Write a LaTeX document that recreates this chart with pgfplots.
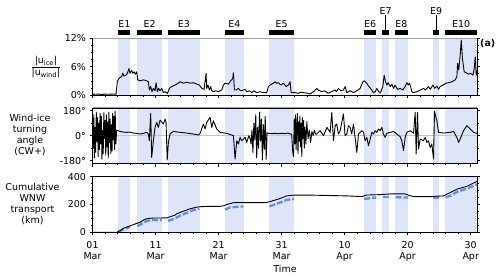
\documentclass[border=0pt]{standalone}
\usepackage{fontspec}
\setmainfont{DejaVu Sans}
\usepackage{pgfplots}
\pgfplotsset{compat=1.18}
\definecolor{shadecol}{RGB}{222,229,248}
\definecolor{bluecol}{RGB}{100,140,235}

\newcommand{\evrect}[5]{\addplot[#5, forget plot] coordinates {(#1,#3) (#2,#3) (#2,#4) (#1,#4)};}
\newcommand{\allevents}[3]{%
\evrect{4.1}{6}{#1}{#2}{#3}%
\evrect{7.1}{11}{#1}{#2}{#3}%
\evrect{12}{17}{#1}{#2}{#3}%
\evrect{21}{24}{#1}{#2}{#3}%
\evrect{28}{32}{#1}{#2}{#3}%
\evrect{43.1}{45}{#1}{#2}{#3}%
\evrect{46}{47}{#1}{#2}{#3}%
\evrect{48}{50}{#1}{#2}{#3}%
\evrect{54}{55}{#1}{#2}{#3}%
\evrect{56}{61}{#1}{#2}{#3}%
}

\pgfplotsset{
  every axis/.append style={
    scale only axis, width=384.5bp,
    xmin=0, xmax=61,
    xtick={0,10,20,30,40,50,60}, minor x tick num=4,
    xtick pos=bottom,
    tick align=outside,
    major tick length=3bp, minor tick length=1.8bp,
    every tick/.style={black, line width=0.6bp},
    axis line style={line width=0.7bp},
    axis on top=true,
    tick label style={font=\fontsize{9.5}{11.6}\selectfont},
  },
  dataline/.style={black, line width=0.9bp, line join=round},
  blueline/.style={bluecol, line width=2.3bp, dash pattern=on 6bp off 2bp},
}

\begin{document}
\begin{tikzpicture}[x=1bp,y=1bp,font=\fontsize{9.5}{11.1}\selectfont]
\useasboundingbox (0,0) rectangle (500,278);

% ---------------- panel a ----------------
\begin{axis}[name=pa, at={(92.5bp,183bp)}, anchor=south west, height=56.7bp,
  ymin=0, ymax=12, ytick={0,6,12}, yticklabels={0\%,6\%,12\%}, minor y tick num=3,
  xticklabels={}, clip=false]
\allevents{0}{12}{fill=shadecol,draw=none}
\allevents{12.68}{13.85}{fill=black,draw=none}
\addplot[dataline] coordinates {
(0,0.2)(0.5,0.15)(1,0.2)(1.5,0.1)(2,0.2)(2.5,0.15)(3,0.2)(3.5,0.15)(3.73,0.2)(3.94,2.8)(4.10,3.3)(4.36,3.7)(4.63,3.9)(4.79,4.6)(5.0,4.0)(5.32,4.2)(5.53,4.6)(5.79,5.6)(5.95,4.6)(6.22,5.2)(6.38,4.6)(6.59,4.9)(6.8,4.4)(7.01,4.9)(7.17,3.2)(7.54,3.0)(8.07,3.2)(8.6,3.0)(8.86,2.8)(9.02,1.06)(9.23,1.8)(9.44,0.7)(9.66,1.4)(9.92,0.9)(10.08,2.6)(10.29,0.7)(10.5,1.4)(10.71,0.9)(10.98,1.4)(11.24,0.5)(11.51,0.7)(11.88,0.35)(12.2,1.4)(12.57,1.8)(13.1,2.1)(13.62,2.5)(13.89,2.8)(14.42,2.5)(14.95,2.7)(15.48,2.5)(16.0,2.6)(16.53,2.3)(16.96,2.1)(17.33,1.4)(17.7,1.2)(18.02,4.6)(18.12,1.4)(18.33,2.1)(18.54,1.06)(18.76,1.8)(18.91,0.9)(19.18,0.7)
(19.5,0.9)(19.97,0.7)(20.5,1.06)(20.77,2.1)(21.03,2.5)(21.56,2.3)(21.93,3.0)(22.25,3.5)(22.35,4.7)(22.51,1.06)(22.78,1.06)(23.15,1.4)(23.4,1.0)(23.68,0.9)(23.94,1.06)(24.2,1.2)(24.47,0.7)(24.9,0.9)(25.26,0.5)(25.6,0.9)(26.06,0.5)(26.59,0.7)(27.1,0.5)(27.65,0.5)(27.91,1.8)(28.17,2.1)(28.70,2.5)(28.97,2.8)(29.2,2.5)(29.5,2.6)(29.9,2.1)(30.29,2.5)(30.71,1.8)(31.08,2.1)(31.35,2.8)(31.51,0.5)(32.14,0.5)(32.67,0.35)(33.0,0.6)(33.46,0.5)(34.0,0.4)(34.52,0.2)(35.05,0.7)(35.58,1.4)(35.8,1.06)(36.38,0.7)(36.8,0.9)(37.43,0.35)(37.9,0.7)(38.49,1.06)(38.7,0.7)(39.02,1.4)(39.4,0.9)(39.81,1.06)(40.08,1.8)(40.34,0.5)
(40.88,0.9)(41.4,0.5)(41.93,0.9)(42.46,1.4)(42.89,2.8)(43.10,3.0)(43.5,2.5)(43.79,1.9)(44.1,1.4)(44.3,1.06)(44.58,0.5)(44.85,0.7)(45.11,1.4)(45.4,0.7)(45.7,0.5)(46.06,1.8)(46.27,4.2)(46.49,2.8)(46.7,2.1)(46.9,2.6)(47.23,1.8)(47.5,2.3)(47.75,1.4)(48.0,2.1)(48.39,1.2)(48.8,1.4)(49.24,1.06)(49.6,1.8)(49.87,2.6)(50.1,2.1)(50.3,2.5)(50.67,0.7)(50.9,0.5)(51.46,0.7)(52.0,1.06)(52.52,1.4)(52.8,1.06)(53.31,1.8)(53.6,1.2)(54.0,2.1)(54.3,1.4)(54.63,1.9)(54.9,1.2)(55.16,1.8)(55.6,2.1)(56.11,2.5)(56.5,2.6)(57.01,2.8)(57.3,3.0)(57.54,3.2)(57.81,3.9)(57.92,6.7)(58.1,5.3)(58.34,8.5)(58.5,11.6)(58.71,7.4)(58.97,4.9)(59.3,4.7)(59.66,4.4)(60.0,4.6)(60.35,4.2)(60.56,5.6)(60.72,8.1)(60.88,4.2)(61.0,5.2)
};
\addplot[black, line width=0.8bp] coordinates {(46.5,13.85) (46.5,16.9)};
\addplot[black, line width=0.8bp] coordinates {(54.5,13.85) (54.5,16.9)};
\node[anchor=base] at (axis cs:5.05,14.35) {E1};
\node[anchor=base] at (axis cs:9.05,14.35) {E2};
\node[anchor=base] at (axis cs:14.5,14.35) {E3};
\node[anchor=base] at (axis cs:22.5,14.35) {E4};
\node[anchor=base] at (axis cs:30,14.35) {E5};
\node[anchor=base] at (axis cs:44.05,14.35) {E6};
\node[anchor=base] at (axis cs:46.5,17.14) {E7};
\node[anchor=base] at (axis cs:49,14.35) {E8};
\node[anchor=base] at (axis cs:54.5,17.14) {E9};
\node[anchor=base] at (axis cs:58.5,14.35) {E10};
\node[anchor=north west, inner sep=0pt, font=\fontsize{9.5}{11}\selectfont\bfseries] at (rel axis cs:1,1) [xshift=3bp, yshift=-1bp] {(a)};
\end{axis}

% ---------------- panel b ----------------
\begin{axis}[name=pb, at={(92.5bp,114.5bp)}, anchor=south west, height=55.6bp,
  ymin=-200, ymax=200, ytick={-180,0,180}, yticklabels={-180°,0°,180°}, minor y tick num=1,
  xticklabels={}]
\allevents{-200}{200}{fill=shadecol,draw=none}
\addplot[gray!45, line width=0.6bp, forget plot] coordinates {(0,0) (61,0)};
\addplot[dataline] coordinates {
(0,120)(0.1,-90)(0.2,150)(0.3,-160)(0.4,60)(0.5,-120)(0.6,170)(0.7,-40)(0.8,130)(0.9,-150)(1.0,90)(1.1,-100)(1.2,160)(1.3,-60)(1.4,140)(1.5,-170)(1.6,40)(1.7,-130)(1.8,165)(1.9,-20)(2.0,110)(2.1,-140)(2.2,150)(2.3,-80)(2.4,100)(2.5,-160)(2.6,170)(2.7,-50)(2.8,120)(2.9,-130)(3.0,80)(3.1,-110)(3.2,160)(3.3,-30)(3.4,140)(3.5,-100)(3.6,175)(3.7,-60)(3.84,40)
(4.37,31)(4.9,26)(5.43,24)(5.95,26)(6.48,19)(7.01,17)(7.54,12)(8.07,17)(8.6,24)(8.86,12)(9.02,-36)(9.23,161)(9.39,-156)(9.66,-36)(9.92,60)(10.19,96)(10.45,60)(10.72,113)(11.25,84)(11.51,120)(11.67,96)(11.85,-175)(12.04,-48)(12.3,12)(12.83,31)(13.89,24)(14.95,19)(16.0,12)(16.8,5)(17.07,17)(17.6,84)(17.86,48)(18.12,96)(18.65,132)(18.92,60)(19.18,108)(19.71,48)(20.24,24)(21.3,17)(22.36,0)(22.62,-168)(22.89,-36)(23.15,-60)(23.42,-12)(23.68,-36)(24.21,-12)(24.47,-48)(24.8,0)
(25.0,-20)(25.15,-60)(25.3,40)(25.45,-120)(25.6,90)(25.75,-30)(25.9,150)(26.05,-160)(26.2,60)(26.35,-90)(26.5,170)(26.65,-40)(26.8,120)(26.95,-175)(27.1,80)(27.25,-100)(27.4,140)(27.55,-170)(27.7,20)
(27.91,17)(28.5,15)(29.0,17)(29.5,14)(30,17)(30.5,15)(31.0,19)(31.3,14)(31.6,10)(31.77,-120)(31.9,-150)(32.0,120)(32.1,-60)(32.2,150)(32.3,-100)(32.4,60)(32.5,160)(32.6,-130)(32.7,100)(32.8,-40)(32.9,140)(33.0,-80)(33.1,90)(33.2,-150)(33.3,130)(33.4,-20)(33.5,110)(33.6,-90)(33.7,60)(33.85,-60)(34.0,100)(34.2,-20)(34.4,40)(34.6,-50)(34.8,30)(35.0,0)(35.2,40)(35.4,10)
(35.58,12)(36.1,36)(36.64,0)(37.2,60)(37.7,24)(37.96,168)(38.23,-36)(38.5,72)(38.76,84)(39.0,12)(39.29,36)(39.55,96)(39.81,156)(40.07,0)(40.34,12)(40.6,72)(40.87,60)(41.13,12)(41.4,84)(41.66,-12)(41.93,-120)(42.2,12)(42.72,36)(43.0,24)(43.25,-36)(43.52,-12)(43.78,-72)(44.05,-24)(44.31,24)(44.58,12)(44.84,36)(45.1,24)(45.37,48)(45.63,36)(45.9,60)(46.16,12)(46.42,-12)(46.69,17)(47.22,24)(47.75,31)(48.28,12)(48.81,-7)(49.07,-36)(49.34,-108)(49.6,-12)(49.87,24)(50.4,36)(50.93,17)(51.19,168)(51.35,-132)(51.56,168)(51.72,-96)(51.98,-24)(52.51,-36)(52.78,-12)(53.04,-48)(53.3,-36)(53.57,-84)(53.84,-60)(54.1,-168)(54.26,175)(54.63,108)(54.89,24)(55.69,19)(56.75,24)(57.28,31)(57.8,-12)(58.07,-48)(58.33,-24)(58.86,36)(59.39,72)(59.92,48)(60.45,24)(61,17)
};
\node[anchor=north west, inner sep=0pt, font=\fontsize{9.5}{11}\selectfont\bfseries] at (rel axis cs:1,1) [xshift=3bp, yshift=-1bp] {(b)};
\end{axis}

% ---------------- panel c ----------------
\begin{axis}[name=pc, at={(92.5bp,45.7bp)}, anchor=south west, height=55.6bp,
  ymin=0, ymax=400, ytick={0,200,400}, yticklabels={0,200,400}, minor y tick num=3,
  xticklabels={01\\Mar,11\\Mar,21\\Mar,31\\Mar,10\\Apr,20\\Apr,30\\Apr},
  xticklabel style={align=center, yshift=-2.5bp}]
\allevents{0}{400}{fill=shadecol,draw=none}
\addplot[blueline] coordinates {(4.1,5)(5.0,22)(5.95,40)};
\addplot[blueline] coordinates {(7.1,45)(7.8,60)(8.6,81)(9.4,88)(11.0,88)};
\addplot[blueline] coordinates {(12.0,83)(12.83,95)(13.89,119)(14.95,140)(16.0,160)(16.95,169)};
\addplot[blueline] coordinates {(21.03,164)(21.83,179)(22.88,183)(23.94,186)};
\addplot[blueline] coordinates {(28.07,186)(28.9,200)(29.76,214)(30.8,233)(31.98,241)};
\addplot[blueline] coordinates {(43.1,240)(44.0,245)(45.0,250)};
\addplot[blueline] coordinates {(46.06,252)(47.0,252)};
\addplot[blueline] coordinates {(48.07,252)(50.03,250)};
\addplot[blueline] coordinates {(54.05,250)(55.0,250)};
\addplot[blueline] coordinates {(56.05,252)(56.75,262)(57.8,290)(59.39,314)(61.0,345)};
\addplot[dataline] coordinates {
(0,0)(3.84,0)(4.4,12)(4.9,29)(5.95,46)(7.01,64)(7.54,72)(8.1,88)(8.6,98)(9.66,103)(10.72,103)(11.78,104)(12.3,112)(13.1,124)(13.36,133)(14.42,152)(15.48,169)(16.53,181)(17.07,184)(18.12,186)(20.24,187)(20.77,190)(21.3,200)(22.36,213)(24.47,213)(27.6,214)(28.4,224)(29.76,243)(30.8,262)(31.88,267)(35.05,267)(40.34,262)(42.72,257)(43.52,268)(45.63,271)(47.22,276)(49.6,276)(50.13,267)(50.93,257)(53.57,257)(55.69,262)(56.22,274)(57.8,310)(59.39,331)(61,366)
};
\node[anchor=north west, inner sep=0pt, font=\fontsize{9.5}{11}\selectfont\bfseries] at (rel axis cs:1,1) [xshift=3bp, yshift=-1bp] {(c)};
\end{axis}

% top spines of panels a and b in grey
\draw[gray!75, line width=1bp] (pa.north west) -- (pa.north east);
\draw[gray!75, line width=1bp] (pb.north west) -- (pb.north east);

% ---------------- y labels ----------------
\node at (46,211.3) {$\displaystyle\frac{\mbox{|u\textsubscript{ice}|}}{\mbox{|u\textsubscript{wind}|}}$};
\node[align=center] at (30,143) {Wind-ice\\turning\\angle\\(CW+)};
\node[align=center] at (32.5,74) {Cumulative\\WNW\\transport\\(km)};
\node at (285,8.7) {Time};
\end{tikzpicture}
\end{document}
